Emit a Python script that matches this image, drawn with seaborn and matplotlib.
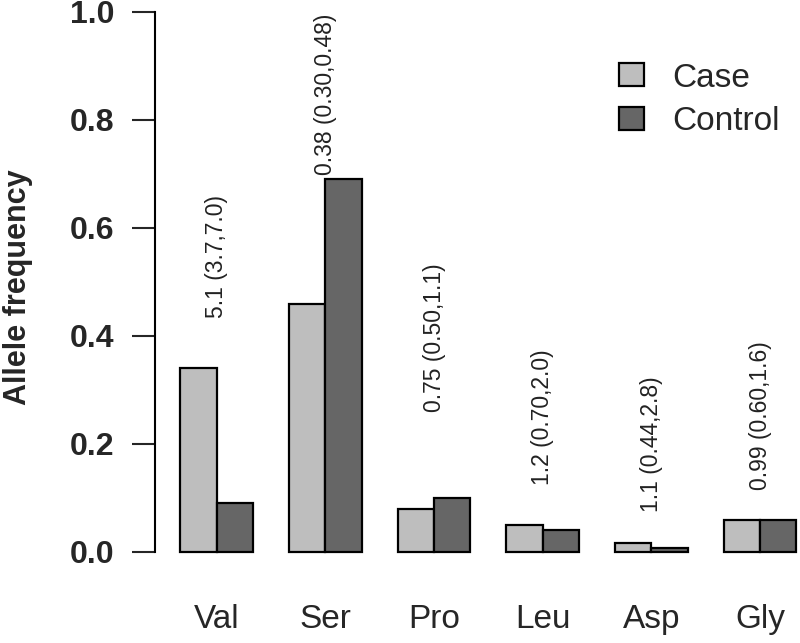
import pandas as pd
import matplotlib.pyplot as plt
import seaborn as sns

# allele frequencies
residues = ['Val', 'Ser', 'Pro', 'Leu', 'Asp', 'Gly']
case_freq = [0.34, 0.46, 0.08, 0.05, 0.017, 0.06]
control_freq = [0.09, 0.69, 0.10, 0.04, 0.007, 0.06]
or_labels = ['5.1 (3.7,7.0)', '0.38 (0.30,0.48)', '0.75 (0.50,1.1)',
             '1.2 (0.70,2.0)', '1.1 (0.44,2.8)', '0.99 (0.60,1.6)']
label_y = [0.433, 0.698, 0.259, 0.124, 0.074, 0.115]

df = pd.DataFrame({
    'residue': residues * 2,
    'freq': case_freq + control_freq,
    'group': ['Case'] * len(residues) + ['Control'] * len(residues),
})

sns.set_style('white')
plt.rcParams['font.family'] = ['Liberation Sans', 'DejaVu Sans']

fig = plt.figure(figsize=(8, 6.43), dpi=100)
ax = fig.add_axes([155 / 800, 0.108, 1 - 155 / 800, 0.892])

sns.barplot(data=df, x='residue', y='freq', hue='group', order=residues,
            palette={'Case': '#bebebe', 'Control': '#666666'},
            width=2 / 3, edgecolor='black', linewidth=1.6,
            errorbar=None, ax=ax)

for i, txt in enumerate(or_labels):
    ax.text(i, label_y[i], txt, rotation=90, ha='center', va='bottom',
            fontsize=16.5, color='#222222')

ax.set_xlim(-0.568, 5.368)
ax.set_ylim(-0.04, 1.0222)
ax.set_yticks([0, 0.2, 0.4, 0.6, 0.8, 1.0])
ax.set_yticklabels(['0.0', '0.2', '0.4', '0.6', '0.8', '1.0'])
for s in ['top', 'right', 'bottom']:
    ax.spines[s].set_visible(False)
ax.spines['left'].set_bounds(0, 1)
ax.spines['left'].set_linewidth(1.5)
ax.spines['left'].set_color('black')
ax.tick_params(axis='y', left=True, length=16.5, width=1.5, pad=13,
               labelsize=23)
ax.tick_params(axis='x', bottom=False, length=0, pad=22, labelsize=24)
for lab in ax.get_yticklabels():
    lab.set_fontweight('bold')
ax.set_xlabel('')
ax.set_ylabel('Allele frequency', fontsize=22, fontweight='bold')
ax.yaxis.set_label_coords(-0.189, 0.5)

ax.legend(title=None, frameon=False, loc='upper left',
          bbox_to_anchor=(0.693, 0.92), fontsize=24, borderpad=0,
          handlelength=0.75, handleheight=0.68, handletextpad=0.85,
          labelspacing=0.38)

fig.savefig('out.png', dpi=100)
